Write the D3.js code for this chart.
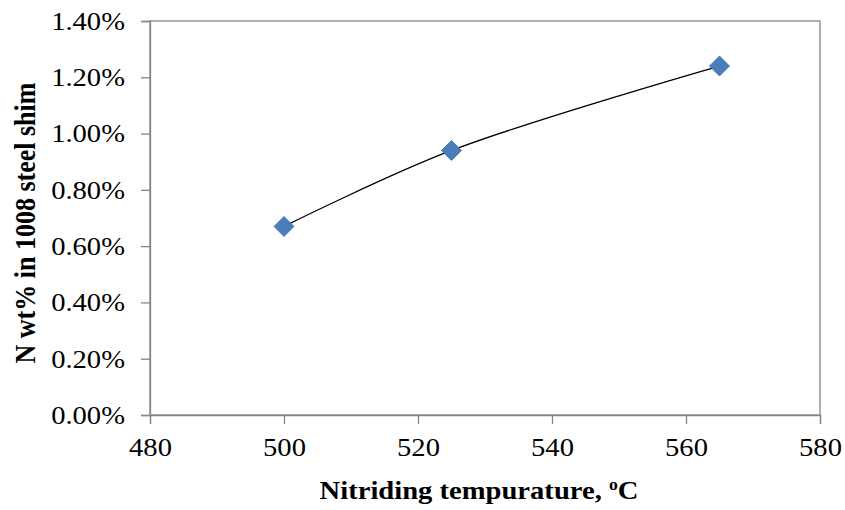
<!DOCTYPE html>
<html>
<head>
<meta charset="utf-8">
<script src="https://cdn.jsdelivr.net/npm/d3@7"></script>
<style>
  html, body { margin: 0; padding: 0; background: #fff; }
  text { font-family: "Liberation Serif", "Times New Roman", serif; }
</style>
</head>
<body>
<svg id="chart" width="845" height="510"></svg>
<script>
const temperatures = [500, 525, 565];
const nitrogenPct = [0.0067, 0.0094, 0.0124];
const xTicks = [480, 500, 520, 540, 560, 580];
const yTicks = [0, 0.002, 0.004, 0.006, 0.008, 0.010, 0.012, 0.014];

const svg = d3.select("#chart");
const m = { left: 150, right: 25, top: 21, bottom: 95 };
const W = 845, H = 510;
const x = d3.scaleLinear().domain([480, 580]).range([m.left, W - m.right]);
const y = d3.scaleLinear().domain([0, 0.014]).range([H - m.bottom, m.top]);
const axisColor = "#868686";
const stretch = 1.1;

// plot box
svg.append("rect")
  .attr("x", x(480)).attr("y", y(0.014))
  .attr("width", x(580) - x(480)).attr("height", y(0) - y(0.014))
  .attr("fill", "none").attr("stroke", axisColor).attr("stroke-width", 1.3);

const fmtY = d => (d * 100).toFixed(2) + "%";

const yAxis = svg.append("g")
  .attr("transform", `translate(${x(480)},0)`)
  .call(d3.axisLeft(y).tickValues(yTicks).tickFormat(fmtY).tickSize(9).tickPadding(15));
const xAxis = svg.append("g")
  .attr("transform", `translate(0,${y(0)})`)
  .call(d3.axisBottom(x).tickValues(xTicks).tickFormat(d3.format("d")).tickSize(9).tickPadding(14));

[yAxis, xAxis].forEach(g => {
  g.select(".domain").attr("stroke", axisColor).attr("stroke-width", 1.3);
  g.selectAll(".tick line").attr("stroke", axisColor).attr("stroke-width", 1.3);
  g.selectAll(".tick text")
    .attr("fill", "#000")
    .style("font-family", "'Liberation Serif', 'Times New Roman', serif")
    .style("font-size", "26px");
});
// horizontally stretched glyphs, as in the reference
yAxis.selectAll(".tick text").attr("x", -25 / stretch).attr("transform", `scale(${stretch},1)`);
xAxis.selectAll(".tick text").attr("transform", `scale(${stretch},1)`);

// smoothed line
const pts = temperatures.map((t, i) => [t, nitrogenPct[i]]);
svg.append("path")
  .datum(pts)
  .attr("fill", "none")
  .attr("stroke", "#000")
  .attr("stroke-width", 1.3)
  .attr("d", d3.line().x(d => x(d[0])).y(d => y(d[1])).curve(d3.curveCatmullRom.alpha(0.5)));

// diamond markers
svg.selectAll(".marker")
  .data(pts)
  .join("path")
  .attr("class", "marker")
  .attr("transform", d => `translate(${x(d[0])},${y(d[1])}) rotate(45)`)
  .attr("d", d3.symbol().type(d3.symbolSquare).size(200))
  .attr("fill", "#4A7EBB")
  .attr("stroke", "#3E6FA8")
  .attr("stroke-width", 0.8);

// axis titles
const xt = svg.append("text")
  .attr("transform", `translate(479,499) scale(${stretch},1)`)
  .attr("text-anchor", "middle")
  .style("font-size", "26px").style("font-weight", "bold");
xt.append("tspan").text("Nitriding  tempurature, ");
xt.append("tspan").attr("dy", -9).style("font-size", "16px").text("o");
xt.append("tspan").attr("dy", 9).text("C");

svg.append("text")
  .attr("transform", `translate(35,223) scale(${stretch},1) rotate(-90)`)
  .attr("text-anchor", "middle")
  .style("font-size", "26px").style("font-weight", "bold")
  .text("N wt% in 1008 steel shim");
</script>
</body>
</html>
